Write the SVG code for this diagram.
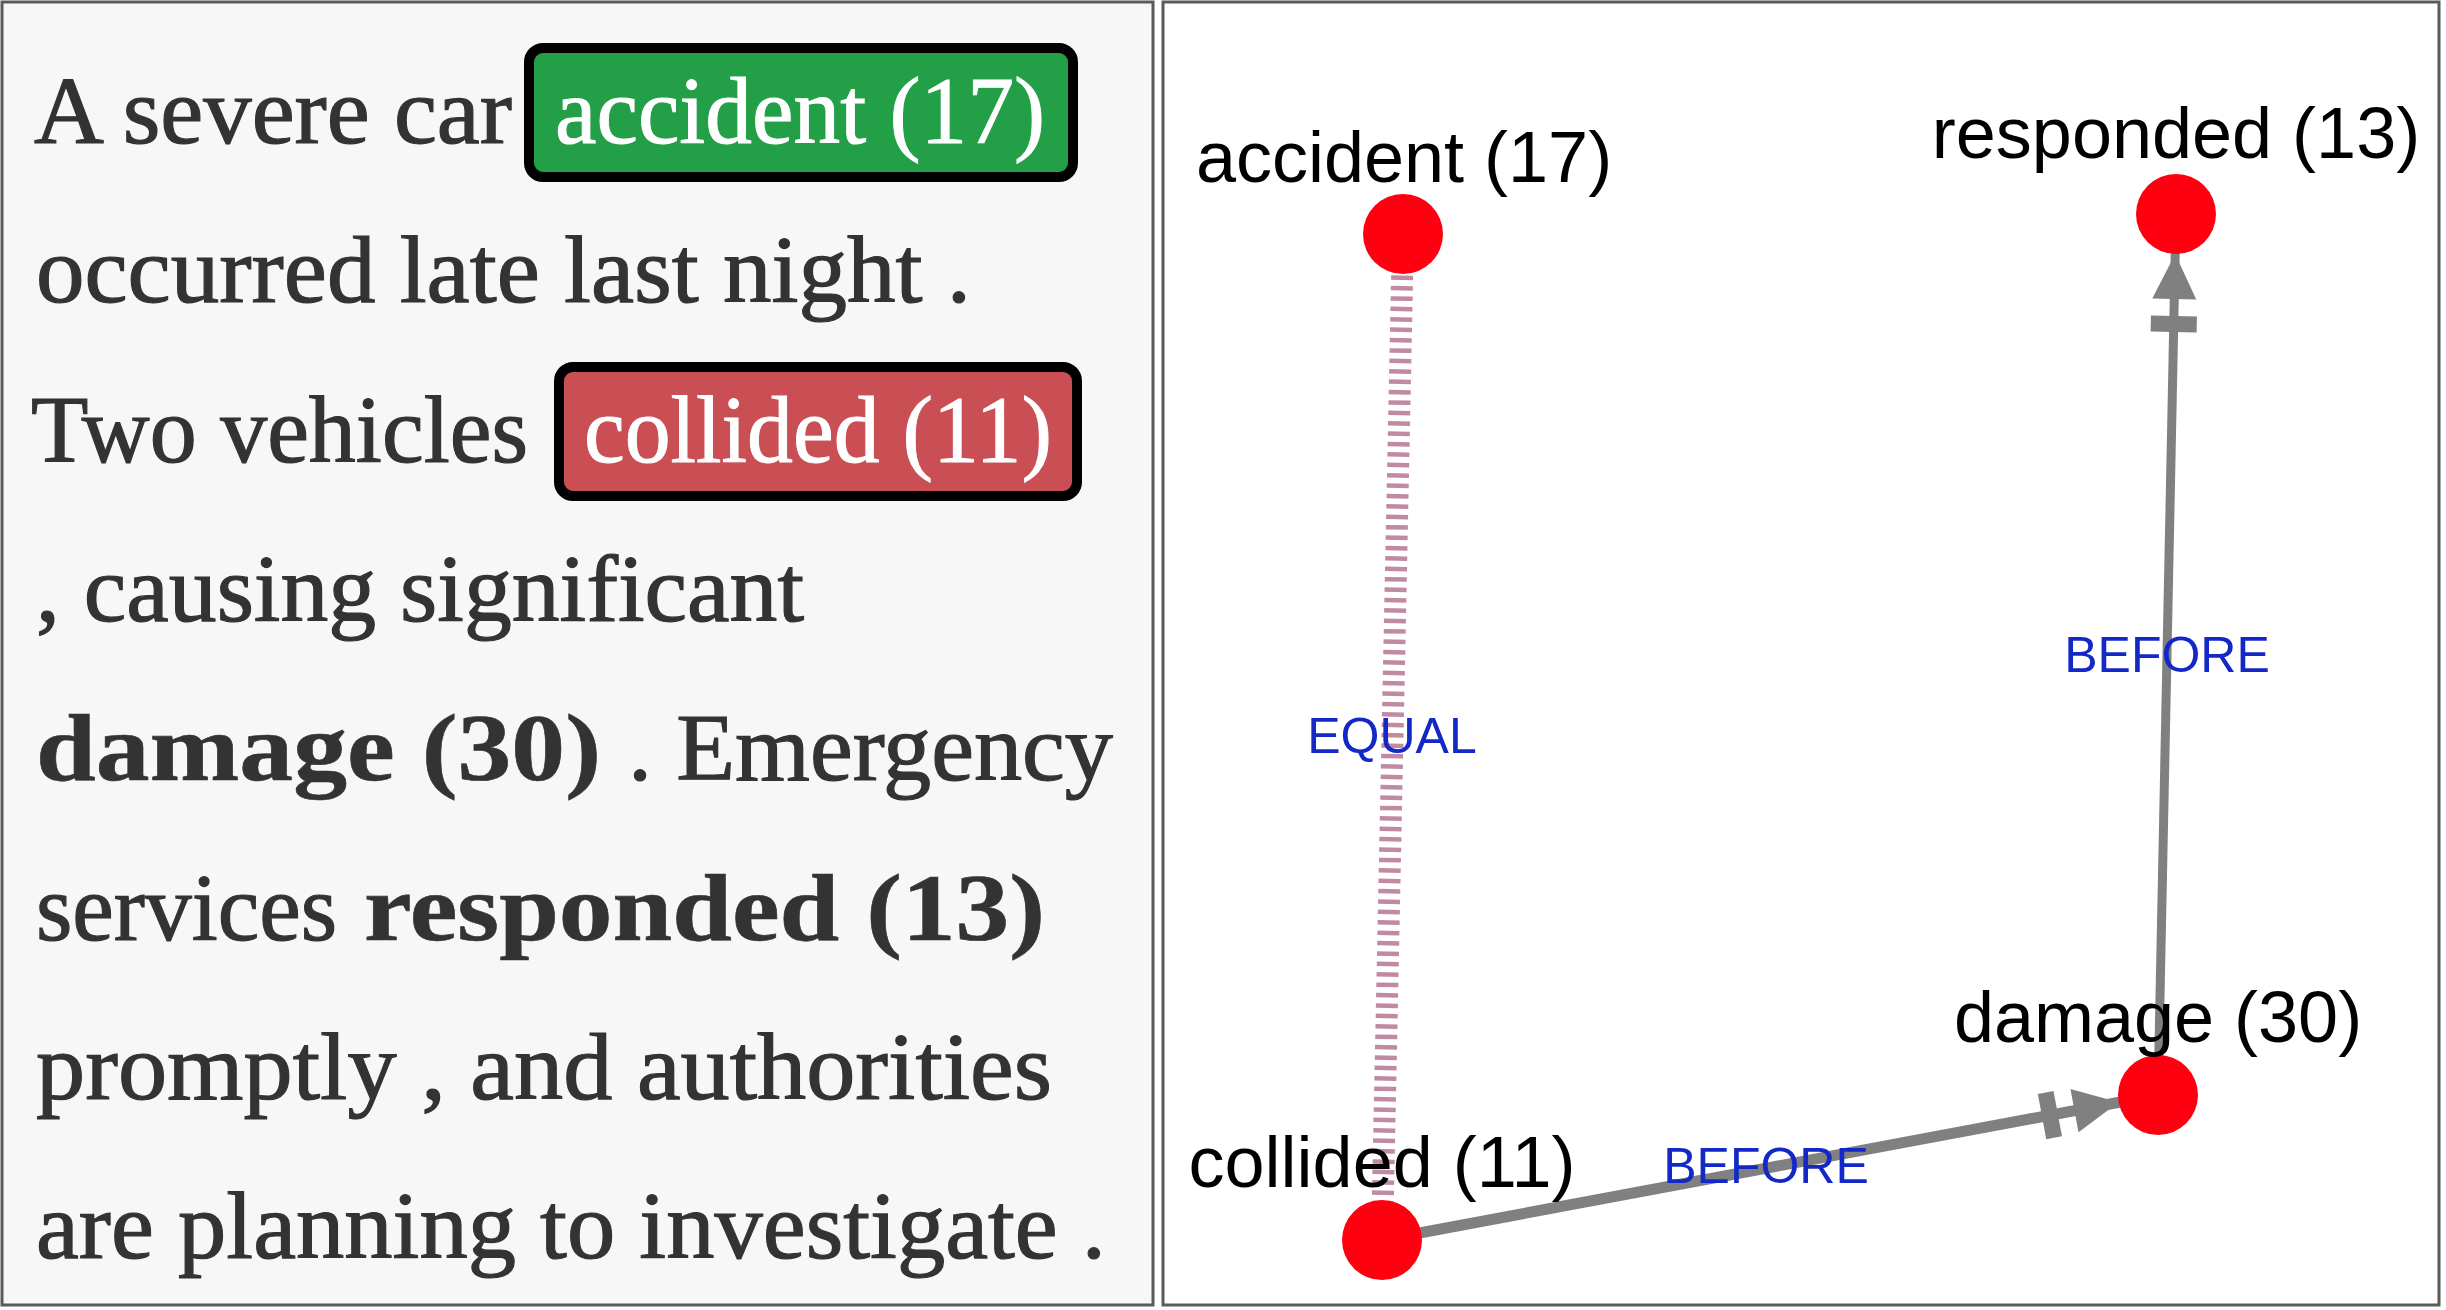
<svg xmlns="http://www.w3.org/2000/svg" width="2446" height="1310" viewBox="0 0 2446 1310">
  <style>
    .panel { stroke: #5a5a5a; stroke-width: 3; }
    .body { font-family: "Liberation Serif", "DejaVu Serif", serif; font-size: 96px; fill: #333333; stroke: #333333; stroke-width: 1.2; }
    .bold { font-weight: bold; stroke-width: 0.6; }
    .hl { font-family: "Liberation Serif", "DejaVu Serif", serif; font-size: 96px; fill: #ffffff; stroke: #ffffff; stroke-width: 1; }
    .hlbox { stroke: #000000; stroke-width: 10; }
    .node { fill: #ff0010; }
    .nlabel { font-family: "Liberation Sans", Arial, sans-serif; font-size: 72px; fill: #000000; text-anchor: middle; }
    .elabel { font-family: "Liberation Sans", Arial, sans-serif; font-size: 50px; fill: #1428c8; text-anchor: middle; }
    .before { stroke: #808080; fill: none; }
    .equal { stroke: #c08aa2; stroke-width: 22; stroke-dasharray: 4.5 5.9; fill: none; }
  </style>
  <defs>
    <g id="arrowhead">
      <polygon points="0,0 -45,-22 -45,22" fill="#808080"/>
      <rect x="-78" y="-23" width="16" height="46" fill="#808080"/>
    </g>
  </defs>

  <!-- Left panel: annotated text -->
  <g id="text-panel">
    <rect class="panel" x="2" y="2" width="1151" height="1303" fill="#f7f7f7"/>
    <rect class="hlbox" x="529" y="48" width="544" height="129" rx="14" fill="#239f47"/>
    <rect class="hlbox" x="559" y="367" width="518" height="129" rx="14" fill="#c94f55"/>
    <text class="body" x="34" y="143" textLength="478" lengthAdjust="spacingAndGlyphs">A severe car</text>
    <text class="hl" x="555" y="143" textLength="490" lengthAdjust="spacingAndGlyphs">accident (17)</text>
    <text class="body" x="36" y="302" textLength="935" lengthAdjust="spacingAndGlyphs">occurred late last night .</text>
    <text class="body" x="31" y="462" textLength="497" lengthAdjust="spacingAndGlyphs">Two vehicles</text>
    <text class="hl" x="584" y="462" textLength="468" lengthAdjust="spacingAndGlyphs">collided (11)</text>
    <text class="body" x="36" y="621" textLength="768" lengthAdjust="spacingAndGlyphs">, causing significant</text>
    <text class="body bold" x="36" y="780" textLength="565" lengthAdjust="spacingAndGlyphs">damage (30)</text>
    <text class="body" x="628" y="780" textLength="485" lengthAdjust="spacingAndGlyphs">. Emergency</text>
    <text class="body" x="36" y="940" textLength="301" lengthAdjust="spacingAndGlyphs">services</text>
    <text class="body bold" x="364" y="940" textLength="681" lengthAdjust="spacingAndGlyphs">responded (13)</text>
    <text class="body" x="36" y="1099" textLength="1016" lengthAdjust="spacingAndGlyphs">promptly , and authorities</text>
    <text class="body" x="36" y="1258" textLength="1070" lengthAdjust="spacingAndGlyphs">are planning to investigate .</text>
  </g>

  <!-- Right panel: graph -->
  <rect class="panel" x="1163" y="2" width="1276" height="1303" fill="#ffffff"/>

  <g id="edges">
    <g id="edge-accident-collided">
      <line class="equal" x1="1403" y1="234" x2="1382" y2="1240"/>
      <text class="elabel" x="1392" y="753">EQUAL</text>
    </g>
    <g id="edge-collided-damage">
      <line class="before" stroke-width="11" x1="1382" y1="1240" x2="2158" y2="1095"/>
      <use href="#arrowhead" transform="translate(2118.7 1102.3) rotate(-10.58)"/>
      <text class="elabel" x="1766" y="1183">BEFORE</text>
    </g>
    <g id="edge-damage-responded">
      <line class="before" stroke-width="9" x1="2158" y1="1095" x2="2176" y2="214"/>
      <use href="#arrowhead" transform="translate(2175.2 254) rotate(-88.83)"/>
      <text class="elabel" x="2167" y="672">BEFORE</text>
    </g>
  </g>

  <g id="node-accident">
    <circle class="node" cx="1403" cy="234" r="40"/>
    <text class="nlabel" x="1404" y="182">accident (17)</text>
  </g>
  <g id="node-responded">
    <circle class="node" cx="2176" cy="214" r="40"/>
    <text class="nlabel" x="2176" y="158">responded (13)</text>
  </g>
  <g id="node-damage">
    <circle class="node" cx="2158" cy="1095" r="40"/>
    <text class="nlabel" x="2158" y="1042">damage (30)</text>
  </g>
  <g id="node-collided">
    <circle class="node" cx="1382" cy="1240" r="40"/>
    <text class="nlabel" x="1382" y="1187">collided (11)</text>
  </g>
</svg>
